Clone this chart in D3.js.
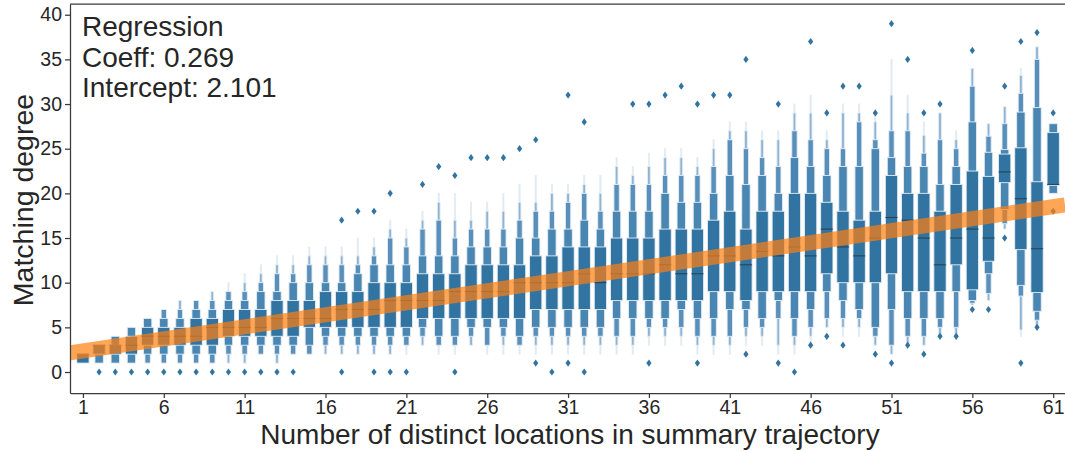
<!DOCTYPE html>
<html>
<head>
<meta charset="utf-8">
<script src="https://cdn.jsdelivr.net/npm/d3@7"></script>
<style>
  body { margin: 0; background: #fff; }
  svg { display: block; font-family: "Liberation Sans", Arial, sans-serif; }
</style>
</head>
<body>
<svg id="chart" width="1065" height="451"></svg>
<script>
// categories: number of distinct locations
const categories = [1,2,3,4,5,6,7,8,9,10,11,12,13,14,15,16,17,18,19,20,21,22,23,24,25,26,27,28,29,30,
  31,32,33,34,35,36,37,38,39,40,41,42,43,44,45,46,47,48,49,50,51,52,53,54,55,56,57,58,59,60,61];

// letter-value box (level 1 = quartiles)
const boxLo = [1,2,2,2,3,3,3,3,3,4,4,4,4,4,5,5,5,5,5,5,5,6,6,6,6,6,6,6,7,7,
  7,7,7,8,8,8,8,8,8,9,9,8,9,9,9,9,11,10,10,10,11,9,9,9,12,9.2,12.4,21.2,13.7,8.9,20.9];
const boxHi = [2,3,3,4,5,5,5,6,6,7,7,7,8,8,8,9,9,9,10,10,10,11,11,11,12,12,12,12,13,13,
  14,14,14,15,15,15,16,16,16,17,18,16,18,18,20,20,19,18,17,18,22,20,20,18,21,22.5,21.9,24.4,25.1,21.3,26.8];
// level 2 (eighths)
const lv2Lo = [null,1,1,1,2,2,2,2,2,3,3,3,3,3,3,4,4,4,4,4,4,5,4,4,5,5,5,4,5,5,
  5,5,5,6,6,6,6,7,6,6,7,7,6,8,6,7,9,8,7,5,7,6,6,6,9,8,11,18.2,9.7,6.8,20];
const lv2Hi = [null,3,4,5,6,6,6,7,7,8,8,9,9,10,10,10,10,11,12,12,12,13,13,13,14,14,14,15,15,16,
  16,17,16,18,18,18,20,19,19,20,22,21,22,20,24,23,22,23,23,25,24,23,23,21,23,28,24.6,24.9,29.1,29.6,27.8];
// level 3 (sixteenths)
const lv3Lo = [null,null,null,null,1,1,1,1,1,2,2,2,2,2,2,3,3,3,3,3,3,4,3,3,4,3,4,3,4,4,
  4,4,4,4,4,5,5,5,4,4,4,5,5,6,4,5,6,6,6,4,3,4,4,5,5,7.7,8.8,16.6,8.5,5.8,null];
const lv3Hi = [null,null,null,null,6,7,7,8,8,9,9,10,11,11,12,12,12,12,13,15,14,16,17,15,16,16,16,17,18,18,
  19,20,18,21,21,21,22,22,22,23,26,25,24,23,27,26,25,25,28,26,27,27,24.5,26,25,32,26.4,27.8,31.2,35,null];
// level 4 (thin)
const lv4Lo = [null,null,null,null,null,null,1,null,1,1,1,2,1,2,2,2,2,2,2,2,3,3,3,3,3,3,3,3,3,3,
  3,3,3,3,3,4,4,4,3,3,3,4,4,3,3,4,5,5,5,3,2,3,3,4,4,7.5,8,16,4.7,5.1,null];
const lv4Hi = [null,null,null,null,null,null,8,null,9,9,10,11,12,12,13,13,13,13,14,16,15,17,19,17,17,18,18,19,19,20,
  20,21,20,23,22,23,24,24,23,25,27,27,26,26,29,29,26,29,29,28,31,29,26.5,29,26,34,27.8,29.7,33.2,36.4,null];
// level 5 (faint tails)
const lv5Lo = [null,null,null,null,null,null,null,null,null,1,1,2,1,2,2,2,2,2,2,2,2,3,2,2,3,2,2,2,2,2,
  2,2,2,2,2,3,3,3,2,2,2,3,3,2,2,3,5,4,4,3,2,3,3,4,4,null,null,null,4,null,null];
const lv5Hi = [null,null,null,null,null,null,null,null,null,10,11,12,13,13,14,14,14,15,15,17,16,18,20,20,19,19,20,21,22,21,
  21,22,22,24,23,24.5,25,25,24,26,28,28,27,27,30,31,27,30,30,29,35,31,28,29,27,null,null,null,34,null,null];
const medians = [2,3,3,3,4,4,4,4,5,5,5,5,6,6,6,6,7,7,7,8,8,8,8,9,9,9,9,10,10,10,
  10,11,10,11,11,11,12,11,11,13,13,12,13.5,13,14,13,16,14,13,15,17.3,17,15,12,15,16,15,22.4,19.4,13.8,21];

// outliers
const outlierCat = [17,18,19,20,22,23,24,25,26,27,28,29,31,32,35,36,37,38,39,40,41,42,44,46,47,48,49,50,51,52,53,54,56,58,59,60,61,
  2,3,4,5,6,7,8,9,10,11,12,13,14,17,19,20,21,24,29,30,31,32,36,39,42,44,45,46,47,48,50,51,52,53,54,55,56,57,58,59,60,61];
const outlierVal = [17,18,18,20,21,23,22,24,24,24,25,26,31,28,30,30,31,32,30,31,31,35,30,37,29,32,32,29,39,35,29,30,36,32,37,38,29,
  0,0,0,0,0,0,0,0,0,0,0,0,0,0,0,0,0,0,1,0,1,0,1,1,2,1,0,3,4,3,2,1,3,2,4,4,7,7,15,1,5,18];

const regCoeff = 0.269;
const regIntercept = 2.101;

const xTicks = [1,6,11,16,21,26,31,36,41,46,51,56,61];
const yTicks = [0,5,10,15,20,25,30,35,40];

const svg = d3.select('#chart');
const plotLeft = 70, plotRight = 1065, plotTop = 4, plotBottom = 393;
const textColor = '#262626';

const x = d3.scaleLinear().domain([0.2, 61.73]).range([plotLeft, plotRight]);
const y = d3.scaleLinear().domain([-2.35, 41.2]).range([plotBottom, plotTop]);
const step = x(2) - x(1);

svg.append('defs').append('clipPath').attr('id', 'plot')
  .append('rect').attr('x', plotLeft).attr('y', plotTop)
  .attr('width', plotRight - plotLeft).attr('height', plotBottom - plotTop);

const plot = svg.append('g').attr('clip-path', 'url(#plot)');

// boxen levels, outer (narrow, light) first
const levels = [
  { lo: lv5Lo, hi: lv5Hi, w: 0.07, fill: '#d9e6f0' },
  { lo: lv4Lo, hi: lv4Hi, w: 0.17, fill: '#8fb4d3' },
  { lo: lv3Lo, hi: lv3Hi, w: 0.33, fill: '#5890bb' },
  { lo: lv2Lo, hi: lv2Hi, w: 0.52, fill: '#4a86b2' },
  { lo: boxLo, hi: boxHi, w: 0.76, fill: '#3274a1' }
];

levels.forEach(lv => {
  const rows = categories.map((c, i) => ({ c, lo: lv.lo[i], hi: lv.hi[i] }))
    .filter(d => d.lo !== null && d.hi !== null);
  plot.selectAll(null)
    .data(rows)
    .enter()
    .append('rect')
    .attr('x', d => x(d.c) - lv.w * step / 2)
    .attr('width', lv.w * step)
    .attr('y', d => y(d.hi))
    .attr('height', d => y(d.lo) - y(d.hi))
    .attr('fill', lv.fill)
    .attr('stroke', '#e4ecf3')
    .attr('stroke-width', 0.9);
});

// medians
plot.selectAll(null)
  .data(categories)
  .enter()
  .append('line')
  .attr('x1', d => x(d) - 0.76 * step / 2)
  .attr('x2', d => x(d) + 0.76 * step / 2)
  .attr('y1', (d, i) => y(medians[i]))
  .attr('y2', (d, i) => y(medians[i]))
  .attr('stroke', '#1e2d38')
  .attr('stroke-opacity', 0.75)
  .attr('stroke-width', 1);

// outliers (thin diamonds)
plot.selectAll(null)
  .data(outlierCat.map((c, i) => ({ c, v: outlierVal[i] })))
  .enter()
  .append('path')
  .attr('d', 'M0,-3.6L2.6,0L0,3.6L-2.6,0Z')
  .attr('transform', d => `translate(${x(d.c)},${y(d.v)})`)
  .attr('fill', '#3274a1');

// regression line
const regLine = d3.line().x(d => x(d)).y(d => y(regCoeff * d + regIntercept));
plot.append('path')
  .datum(x.domain())
  .attr('d', regLine)
  .attr('fill', 'none')
  .attr('stroke', '#ff7f0e')
  .attr('stroke-opacity', 0.7)
  .attr('stroke-width', 15);

// axes
const yAxis = svg.append('g')
  .attr('transform', `translate(${plotLeft},0)`)
  .call(d3.axisLeft(y).tickValues(yTicks).tickSize(5).tickSizeOuter(0).tickPadding(3));
const xAxis = svg.append('g')
  .attr('transform', `translate(0,${plotBottom})`)
  .call(d3.axisBottom(x).tickValues(xTicks).tickSize(5).tickSizeOuter(0).tickPadding(2));

[yAxis, xAxis].forEach(g => {
  g.select('.domain').attr('stroke', '#3a3a3a').attr('stroke-width', 1.25);
  g.selectAll('.tick line').attr('stroke', '#3a3a3a').attr('stroke-width', 1.25);
  g.selectAll('.tick text').attr('fill', textColor)
    .style('font-family', '"Liberation Sans", Arial, sans-serif')
    .style('font-size', '19.5px');
});

svg.append('line')
  .attr('x1', plotLeft).attr('x2', plotRight + 2)
  .attr('y1', plotTop).attr('y2', plotTop)
  .attr('stroke', '#3a3a3a').attr('stroke-width', 1.25);

// axis labels
svg.append('text')
  .attr('transform', 'rotate(-90)')
  .attr('x', -200)
  .attr('y', 33)
  .attr('text-anchor', 'middle')
  .attr('fill', textColor)
  .style('font-size', '28.5px')
  .text('Matching degree');

svg.append('text')
  .attr('x', 570)
  .attr('y', 444)
  .attr('text-anchor', 'middle')
  .attr('fill', textColor)
  .style('font-size', '28px')
  .text('Number of distinct locations in summary trajectory');

// regression annotation
const notes = ['Regression', `Coeff: ${regCoeff}`, `Intercept: ${regIntercept}`];
svg.append('g').selectAll('text')
  .data(notes)
  .enter()
  .append('text')
  .attr('x', 82)
  .attr('y', (d, i) => 36 + i * 30.6)
  .attr('fill', textColor)
  .style('font-size', '28px')
  .text(d => d);
</script>
</body>
</html>
